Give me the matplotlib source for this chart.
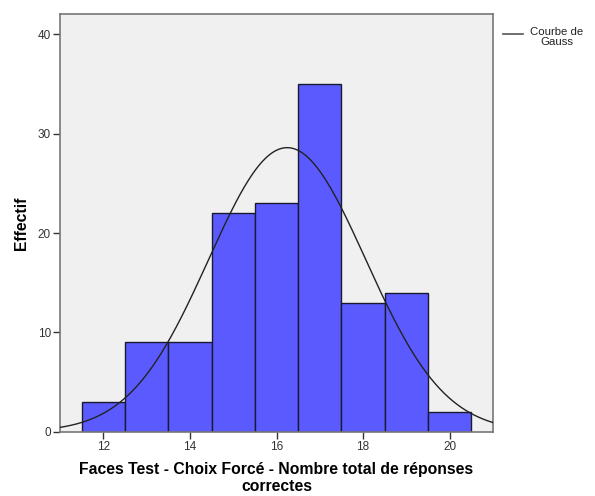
import numpy as np
import matplotlib
matplotlib.use("Agg")
import matplotlib.pyplot as plt

scores = [12, 13, 14, 15, 16, 17, 18, 19, 20]
counts = [3, 9, 9, 22, 23, 35, 13, 14, 2]
x_ticks = [12, 14, 16, 18, 20]
y_ticks = [0, 10, 20, 30, 40]

plt.rcParams['font.family'] = ['Liberation Sans', 'DejaVu Sans']

fig = plt.figure(figsize=(5.95, 4.96), dpi=100)
ax = fig.add_axes([60/595, 1 - 431.7/496, (493-60)/595, (431.7-14)/496])
ax.set_facecolor('#f0f0f0')

ax.bar(scores, counts, width=1.0, color='#5a5aff', edgecolor='#1a1a2e', linewidth=1.0, zorder=2)

# Normal curve from the histogram data
s = np.array(scores, float)
c = np.array(counts, float)
n = c.sum()
mean = (s * c).sum() / n
sd = np.sqrt(((s - mean) ** 2 * c).sum() / (n - 1))
xx = np.linspace(11, 21, 400)
yy = n / (sd * np.sqrt(2 * np.pi)) * np.exp(-0.5 * ((xx - mean) / sd) ** 2)
ax.plot(xx, yy, color='#222222', linewidth=1.0, zorder=3)

ax.set_xlim(11, 21)
ax.set_ylim(0, 42.06)
ax.set_xticks(x_ticks)
ax.set_yticks(y_ticks)
ax.tick_params(axis='both', direction='out', length=5, width=1, color='#333333',
               labelsize=8.5, labelcolor='#333333', pad=1.5)
for sp in ax.spines.values():
    sp.set_color('#777777')
    sp.set_linewidth(1.2)

ax.set_ylabel('Effectif', fontsize=11.3, fontweight='bold', labelpad=6)
ax.set_xlabel('Faces Test - Choix Forcé - Nombre total de réponses\ncorrectes',
              fontsize=11.3, fontweight='bold', linespacing=1.1, labelpad=7)

# Legend
fig.lines.append(plt.Line2D([503/595, 523/595], [1 - 34/496, 1 - 34/496],
                            color='#555555', linewidth=1.2, transform=fig.transFigure))
fig.text(557/595, 1 - 37/496, 'Courbe de\nGauss', ha='center', va='center',
         fontsize=8.2, linespacing=0.95, color='#222222')

fig.savefig('out.png', dpi=100)
